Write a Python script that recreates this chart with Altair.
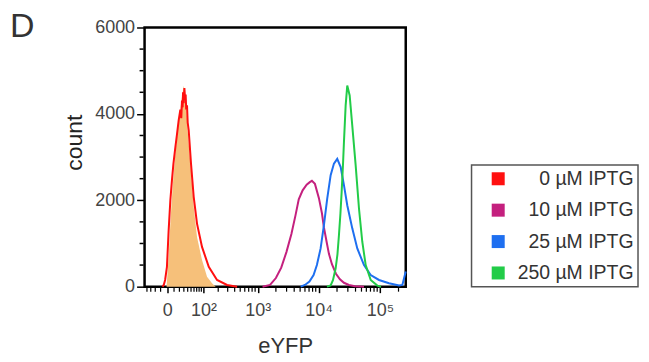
import altair as alt
import pandas as pd

# ---- data (eYFP intensity, event count) ----
series_names = ["0 µM IPTG", "10 µM IPTG", "25 µM IPTG", "250 µM IPTG"]
series_colors = ["#ff1010", "#c4207e", "#1e6ff0", "#22cc48"]
panel_letter = "D"

control_x = [-1, 1.8, 4.7, 7.7, 12.3, 18.5, 24.9, 29.6, 34.6, 40, 48, 58.9, 71.3, 93.2, 119.6, 151.5, 179]
control_y = [0, 700, 1600, 2300, 3100, 3800, 4350, 4650, 4400, 3600, 2850, 1850, 1150, 615, 230, 80, 0]

red_x = [-7, -5, -3, -0.5, 1.8, 4.2, 6.6, 9, 12.3, 15, 18.5, 22, 24, 25.6, 27, 28, 29.5, 31.3, 33, 34.5, 36, 38.1, 40, 42.9, 49.9, 58.9, 71.3, 93.2, 130, 190, 292, 441]
red_y = [0, 40, 155, 460, 1310, 2000, 2460, 2850, 3230, 3500, 3850, 4100, 3900, 4310, 4150, 4500, 4250, 4600, 4350, 4450, 4100, 4200, 3800, 3620, 2850, 2080, 1460, 920, 460, 155, 40, 0]

mag_x = [1200, 1600, 2000, 2450, 2980, 3600, 4200, 4750, 5500, 6400, 7200, 7790, 8730, 10140, 11360, 12240, 13700, 14770, 16530, 19220, 22310, 25920, 31290, 39200, 54950]
mag_y = [0, 40, 200, 440, 800, 1220, 1650, 2020, 2230, 2360, 2420, 2450, 2380, 2050, 1700, 1370, 1000, 760, 520, 300, 170, 90, 40, 10, 0]

blue_x = [5100, 6000, 7100, 8300, 9400, 10810, 12240, 13850, 15750, 17820, 20160, 22930, 25920, 29350, 35420, 42730, 54950, 70630, 96400, 140200, 204100, 231000, 262144]
blue_y = [0, 40, 120, 270, 500, 885, 1425, 2040, 2580, 2850, 2960, 2770, 2350, 1885, 1350, 885, 500, 270, 155, 80, 25, 40, 350]

green_x = [13700, 15750, 17170, 19000, 20320, 21490, 22740, 23780, 24970, 25920, 27630, 29350, 32120, 35420, 40220, 45530, 51530, 58550, 70630, 90510, 103900]
green_y = [0, 30, 150, 425, 750, 1190, 1700, 2190, 2800, 3345, 4190, 4655, 4425, 3730, 2810, 1810, 1040, 500, 155, 25, 0]

x_major = [0, 100, 1000, 10000, 100000]
x_major_labels = ["0", "10²", "10³", "10⁴", "10⁵"]
x_minor = [-40, -30, -20, -10, 10, 20, 30, 40, 50, 60, 70, 80, 90,
           200, 300, 400, 500, 600, 700, 800, 900,
           2000, 3000, 4000, 5000, 6000, 7000, 8000, 9000,
           20000, 30000, 40000, 50000, 60000, 70000, 80000, 90000, 200000]
y_major = [0, 2000, 4000, 6000]
y_minor = [500, 1000, 1500, 2500, 3000, 3500, 4500, 5000, 5500]

# ---- tables ----
rows = []
for name, xs, ys in zip(series_names, [red_x, mag_x, blue_x, green_x], [red_y, mag_y, blue_y, green_y]):
    for i, (a, b) in enumerate(zip(xs, ys)):
        rows.append({"sample": name, "eyfp": a, "count": b, "i": i})
df = pd.DataFrame(rows)
ctrl = pd.DataFrame({"eyfp": control_x, "count": control_y})
xmin_df = pd.DataFrame({"v": x_minor})
ymin_df = pd.DataFrame({"v": y_minor})
letter_df = pd.DataFrame({"t": [panel_letter]})

W, H = 262, 260
FONT = "Liberation Sans"

xscale = alt.Scale(type="symlog", constant=35, domain=[-47, 262144], nice=False)
yscale = alt.Scale(domain=[0, 6000], nice=False)
cscale = alt.Scale(domain=series_names, range=series_colors)

lab_expr = " : ".join(
    f"datum.value == {v} ? '{l}'" for v, l in zip(x_major[:-1], x_major_labels[:-1])
) + f" : '{x_major_labels[-1]}'"

x_axis = alt.Axis(values=x_major, labelExpr=lab_expr, title="eYFP", domain=False,
                  tickSize=6, tickWidth=1.5, tickColor="black", labelFontSize=18,
                  labelColor="#444", labelFont=FONT, labelPadding=9, grid=False,
                  titleFontSize=22, titleFont=FONT, titleFontWeight="normal", titleColor="#333",
                  titleX=141, titleY=66, titleBaseline="alphabetic", titleAlign="center")
y_axis = alt.Axis(values=y_major, format="d", title="count", domain=False, tickSize=8, tickWidth=1.5,
                  tickColor="black", labelFontSize=18, labelColor="#444", labelFont=FONT,
                  labelPadding=2, grid=False, titleFontSize=23, titleFont=FONT,
                  titleFontWeight="normal", titleColor="#222", titleAngle=270,
                  titleX=-70, titleY=115, titleAlign="center", titleBaseline="middle")

area = alt.Chart(ctrl).mark_area(color="#f6c07a", interpolate="linear").encode(
    x=alt.X("eyfp:Q", scale=xscale, axis=x_axis),
    y=alt.Y("count:Q", scale=yscale, axis=y_axis),
)

lines = alt.Chart(df).mark_line(strokeWidth=2, interpolate="linear").encode(
    x=alt.X("eyfp:Q", scale=xscale),
    y=alt.Y("count:Q", scale=yscale),
    color=alt.Color("sample:N", scale=cscale, legend=None),
    order="i:Q",
)

legend_layer = alt.Chart(df).transform_filter("datum.i == 0").mark_square(size=170, opacity=0).encode(
    x=alt.X("eyfp:Q", scale=xscale),
    y=alt.Y("count:Q", scale=yscale),
    fill=alt.Fill("sample:N", scale=cscale, legend=alt.Legend(
        title=None, orient="none", legendX=328, legendY=138,
        symbolType="square", symbolSize=170, symbolStrokeWidth=0, symbolOpacity=1,
        labelFontSize=19.5, labelFont=FONT, labelColor="#333", labelAlign="right",
        labelOffset=126, rowPadding=10.5, padding=4, symbolOffset=13,
        strokeColor="#555", labelLimit=300,
    )),
)

xminor = alt.Chart(xmin_df).mark_rule(color="black", strokeWidth=1.2).encode(
    x=alt.X("v:Q", scale=xscale), y=alt.value(H + 1), y2=alt.value(H + 5)
)
yminor = alt.Chart(ymin_df).mark_rule(color="black", strokeWidth=1.5).encode(
    y=alt.Y("v:Q", scale=yscale), x=alt.value(-5), x2=alt.value(-1)
)
letter = alt.Chart(letter_df).mark_text(
    font=FONT, fontSize=34, color="#333", align="left", baseline="alphabetic"
).encode(text="t:N", x=alt.value(-135), y=alt.value(10))

chart = alt.layer(area, lines, legend_layer, xminor, yminor, letter).properties(
    width=W, height=H,
    autosize="none",
    padding={"left": 137, "top": 19, "right": 236, "bottom": 72},
).resolve_legend(color="independent", fill="independent").configure_view(
    stroke="black", strokeWidth=2.5
).configure_legend(strokeWidth=1.5)

chart.save("out.html", embed_options={"renderer": "svg", "actions": False})
